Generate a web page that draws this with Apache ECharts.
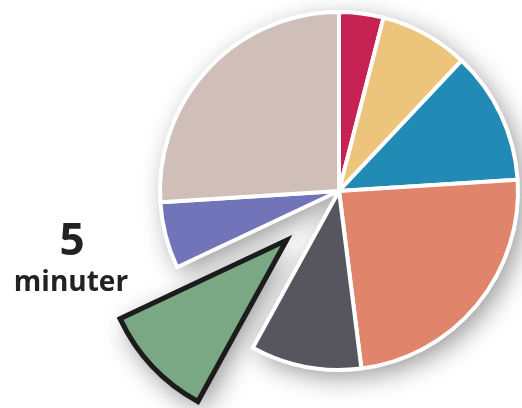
<!DOCTYPE html>
<html><head><meta charset="utf-8">
<script src="https://cdn.jsdelivr.net/npm/echarts@6/dist/echarts.min.js"></script>
<style>html,body{margin:0;padding:0;background:#fff}#c{width:522px;height:408px}</style>
</head><body><div id="c"></div>
<script>
// minutes per activity (total 50)
const categories = ['A','B','C','D','E','F','G','H'];
const values = [2, 4, 6, 12, 5, 5, 3, 13];
const colors = ['#c72254','#ecc47c','#228bb5','#e0846b','#57565f','#7aa784','#7174b8','#d0bfb8'];
const highlightIndex = 5;
const labelNumber = '5';
const labelUnit = 'minuter';

const chart = echarts.init(document.getElementById('c'), null, {renderer:'canvas'});
const center = [339, 191];
const radius = 179;
const bigRadius = 184;
const none = {color:'rgba(0,0,0,0)', borderWidth:0, shadowBlur:0, shadowColor:'rgba(0,0,0,0)'};
const shadow = {shadowBlur:26, shadowColor:'rgba(0,0,0,0.42)', shadowOffsetX:6, shadowOffsetY:7};
const data = (fn) => categories.map((n,i)=>({name:n, value:values[i], selected:i===highlightIndex, itemStyle:fn(i)}));
const base = {type:'pie', silent:true, center, startAngle:90, clockwise:true,
  selectedMode:'single', label:{show:false}, labelLine:{show:false}, emphasis:{disabled:true}};
const hi = (i) => i===highlightIndex;
chart.setOption({
  animation:false,
  series:[
    Object.assign({}, base, {radius, selectedOffset:70,
      data: data(i => hi(i) ? none : Object.assign({color:'#fff'}, shadow))}),
    Object.assign({}, base, {radius:bigRadius+2, selectedOffset:72,
      data: data(i => hi(i) ? Object.assign({color:'#fff'}, shadow) : none)}),
    Object.assign({}, base, {radius, selectedOffset:70,
      data: data(i => hi(i) ? none : {color:colors[i], borderColor:'#fff', borderWidth:4})}),
    Object.assign({}, base, {radius:bigRadius, selectedOffset:72,
      data: data(i => hi(i) ? {color:colors[i], borderColor:'#1c1c1c', borderWidth:5, borderJoin:'miter'} : none)})
  ],
  graphic:[
    {type:'text', x:72, y:242, style:{text:labelNumber, fill:'#222', font:'bold 44px "Open Sans"', align:'center', verticalAlign:'middle'}},
    {type:'text', x:71, y:283, style:{text:labelUnit, fill:'#222', font:'bold 28px "Open Sans"', align:'center', verticalAlign:'middle'}}
  ]
});
</script></body></html>
